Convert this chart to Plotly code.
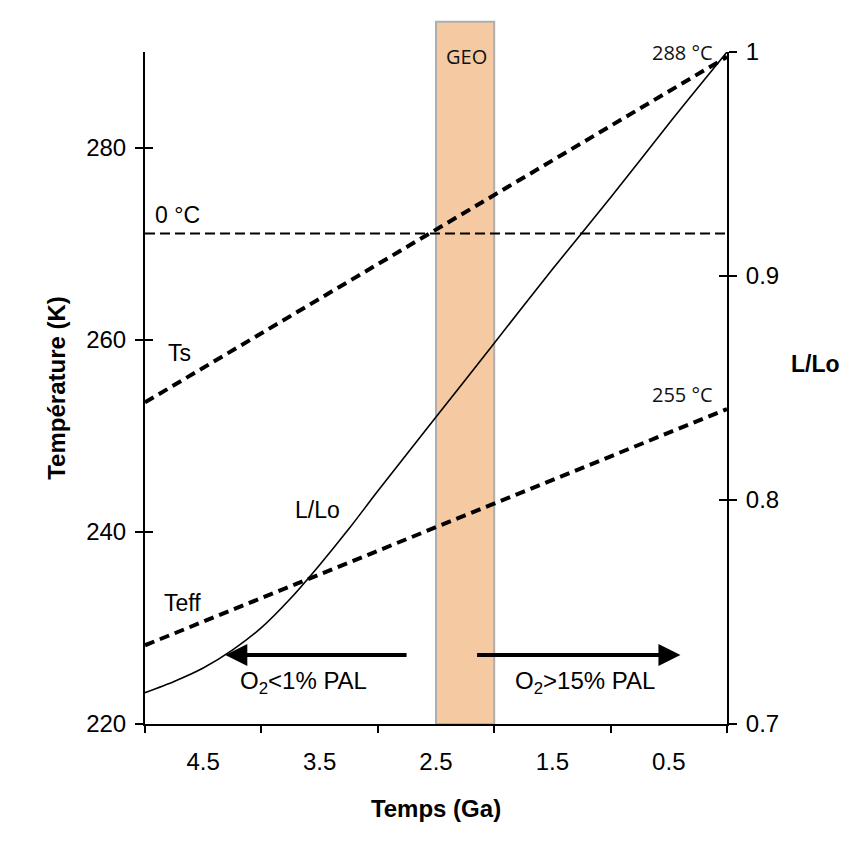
import plotly.graph_objects as go

# ---- data ----
time_ga = [5.0, 0.0]
ts_k = [253.5, 289.5]
teff_k = [228.2, 252.8]
zero_c_k = [271.1, 271.1]

lum_time = [5.0, 4.75, 4.5, 4.25, 4.0, 3.75, 3.5, 3.25, 3.0, 2.5, 2.0, 1.5, 1.0, 0.5, 0.0]
lum_ratio = [0.714, 0.719, 0.725, 0.733, 0.743, 0.756, 0.771, 0.787, 0.804,
             0.837, 0.870, 0.903, 0.935, 0.968, 1.0]

x_tick_labels = [4.5, 3.5, 2.5, 1.5, 0.5]
x_tick_marks = [5, 4, 3, 2, 1, 0]
y_ticks_left = [220, 240, 260, 280]
y_ticks_right = [0.7, 0.8, 0.9, 1.0]
geo_band = [2.5, 2.0]

FONT = "Liberation Sans, Arial, sans-serif"
FONT2 = "Open Sans, sans-serif"

fig = go.Figure()

fig.add_trace(go.Scatter(x=time_ga, y=zero_c_k, mode="lines",
                         line=dict(color="black", width=2, dash="10px,5px"),
                         showlegend=False, hoverinfo="skip"))
fig.add_trace(go.Scatter(x=time_ga, y=ts_k, mode="lines",
                         line=dict(color="black", width=4, dash="10px,6px"),
                         showlegend=False))
fig.add_trace(go.Scatter(x=time_ga, y=teff_k, mode="lines",
                         line=dict(color="black", width=4, dash="10px,6px"),
                         showlegend=False))
fig.add_trace(go.Scatter(x=lum_time, y=lum_ratio, mode="lines", yaxis="y2",
                         line=dict(color="black", width=1.6, shape="spline", smoothing=0.8),
                         showlegend=False))
# invisible traces to carry the inside-tick overlay axes
fig.add_trace(go.Scatter(x=[None], y=[None], yaxis="y3", showlegend=False))
fig.add_trace(go.Scatter(x=[None], y=[None], yaxis="y4", showlegend=False))

fig.add_shape(type="rect", xref="x", yref="paper", x0=geo_band[0], x1=geo_band[1],
              y0=0, y1=1.045, fillcolor="#F5C9A1", line=dict(color="#AEAEAE", width=2),
              layer="below")

tick_font = dict(family=FONT, size=24, color="black")

# the page body has an 8px default margin: shift everything up/left by 8px
fig.update_layout(
    width=853, height=842,
    margin=dict(l=137, r=134, t=44, b=126),
    paper_bgcolor="white", plot_bgcolor="white",
    xaxis=dict(range=[5, 0], showgrid=False, zeroline=False,
               showline=True, linecolor="black", linewidth=2,
               tickmode="array", tickvals=x_tick_labels,
               ticktext=[str(v) for v in x_tick_labels],
               ticks="", tickfont=tick_font, ticklabelstandoff=15,
               minor=dict(tickmode="array", tickvals=x_tick_marks, ticks="outside",
                          ticklen=7, tickwidth=2, tickcolor="black", showgrid=False),
               title=dict(text="<b>Temps (Ga)</b>", font=dict(family=FONT, size=24, color="black"),
                          standoff=26)),
    yaxis=dict(range=[220, 290], showgrid=False, zeroline=False,
               showline=True, linecolor="black", linewidth=2,
               tickmode="array", tickvals=y_ticks_left, ticks="outside",
               ticklen=8, tickwidth=2, tickcolor="black", tickfont=tick_font,
               ticklabelstandoff=4,
               title=dict(text="<b>Température (K)</b>",
                          font=dict(family=FONT, size=24, color="black"), standoff=14)),
    yaxis2=dict(range=[0.7, 1.0], overlaying="y", side="right", anchor="x",
                showgrid=False, zeroline=False, showline=True, linecolor="black", linewidth=2,
                tickmode="array", tickvals=y_ticks_right,
                ticktext=["0.7", "0.8", "0.9", "1"],
                ticks="outside", ticklen=8, tickwidth=2, tickcolor="black",
                tickfont=tick_font, ticklabelstandoff=4),
    yaxis3=dict(range=[220, 290], overlaying="y", side="left", anchor="x",
                showgrid=False, zeroline=False, showline=False, showticklabels=False,
                tickmode="array", tickvals=y_ticks_left, ticks="inside",
                ticklen=8, tickwidth=2, tickcolor="black"),
    yaxis4=dict(range=[0.7, 1.0], overlaying="y", side="right", anchor="x",
                showgrid=False, zeroline=False, showline=False, showticklabels=False,
                tickmode="array", tickvals=y_ticks_right, ticks="inside",
                ticklen=8, tickwidth=2, tickcolor="black"),
)

lab = dict(family=FONT, size=23, color="black")
lab2 = dict(family=FONT2, size=20, color="#111111")

fig.add_annotation(x=4.72, y=273.0, text="0 °C", showarrow=False, font=lab)
fig.add_annotation(x=4.70, y=258.6, text="Ts", showarrow=False, font=lab)
fig.add_annotation(x=4.68, y=232.6, text="Teff", showarrow=False, font=lab)
fig.add_annotation(x=3.52, y=242.3, text="L/Lo", showarrow=False, font=lab)
fig.add_annotation(x=0.10, y=290.0, text="288 °C", showarrow=False, xanchor="right", font=lab2)
fig.add_annotation(x=0.10, y=254.3, text="255 °C", showarrow=False, xanchor="right", font=lab2)
fig.add_annotation(x=2.24, y=1.016, yref="paper", text="GEO", showarrow=False, font=lab2)
fig.add_annotation(x=1.0, xref="paper", xanchor="center", xshift=88, y=257.5,
                   text="<b>L/Lo</b>", showarrow=False, font=dict(family=FONT, size=23, color="black"))

# arrows
fig.add_annotation(x=4.31, y=227.2, ax=2.74, ay=227.2, xref="x", yref="y", axref="x", ayref="y",
                   text="", showarrow=True, arrowhead=2, arrowsize=1.1, arrowwidth=4,
                   arrowcolor="black")
fig.add_annotation(x=0.40, y=227.2, ax=2.16, ay=227.2, xref="x", yref="y", axref="x", ayref="y",
                   text="", showarrow=True, arrowhead=2, arrowsize=1.1, arrowwidth=4,
                   arrowcolor="black")
fig.add_annotation(x=3.64, y=224.3, text="O<sub>2</sub>&lt;1% PAL", showarrow=False,
                   font=dict(family=FONT, size=24, color="black"))
fig.add_annotation(x=1.22, y=224.3, text="O<sub>2</sub>&gt;15% PAL", showarrow=False,
                   font=dict(family=FONT, size=24, color="black"))

fig.write_html("out.html")
